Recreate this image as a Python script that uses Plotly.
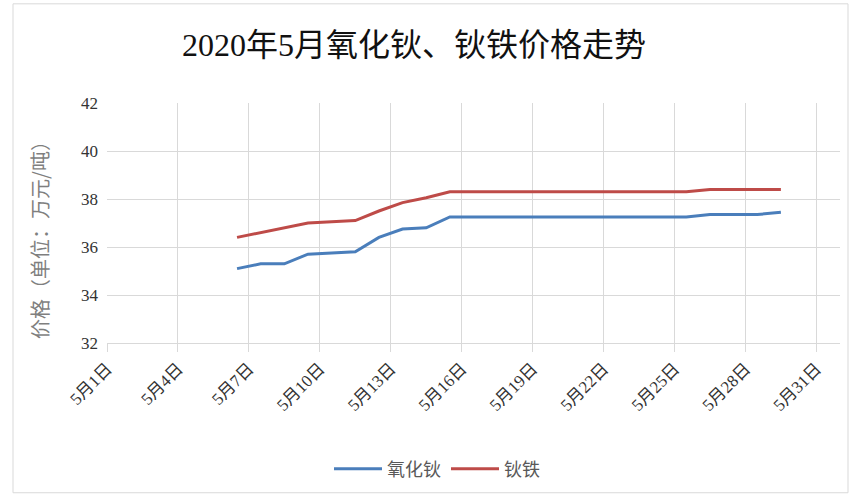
import plotly.graph_objects as go

# Daily prices, 万元/吨
dates = [f"2020-05-{d:02d} 12:00" for d in range(6, 30)]
holmium_oxide = [35.1, 35.3, 35.3, 35.7, 35.75, 35.8, 36.4, 36.75, 36.8,
                 37.25, 37.25, 37.25, 37.25, 37.25, 37.25, 37.25, 37.25, 37.25, 37.25, 37.25,
                 37.35, 37.35, 37.35, 37.45]
holmium_iron = [36.4, 36.6, 36.8, 37.0, 37.05, 37.1, 37.5, 37.85, 38.05,
                38.3, 38.3, 38.3, 38.3, 38.3, 38.3, 38.3, 38.3, 38.3, 38.3, 38.3,
                38.4, 38.4, 38.4, 38.4]

tick_days = list(range(1, 32, 3))
tick_vals = [f"2020-05-{d:02d}" for d in tick_days]
tick_text = [f"5月{d}日" for d in tick_days]
y_ticks = [32, 34, 36, 38, 40, 42]

SERIF = "Times New Roman, Liberation Serif, DejaVu Serif, Noto Sans CJK SC"
CJK = "Noto Sans CJK SC"
GRID = "#d9d9d9"

fig = go.Figure()
fig.add_trace(go.Scatter(x=dates, y=holmium_oxide, mode="lines", name="氧化钬",
                         line=dict(color="#4a7ebb", width=3)))
fig.add_trace(go.Scatter(x=dates, y=holmium_iron, mode="lines", name="钬铁",
                         line=dict(color="#be4b48", width=3)))

W, H = 851, 498
L, R, T, B = 107, 11, 103, 153
pw, ph = W - L - R, H - T - B


def px_x(x):
    return (x - L) / pw


def px_y(y):
    return (H - B - y) / ph


fig.update_layout(
    width=W, height=H,
    margin=dict(l=L, r=R, t=T, b=B),
    paper_bgcolor="white", plot_bgcolor="white",
    title=dict(text="2020年5月氧化钬、钬铁价格走势", x=414 / W, xanchor="center",
               y=1 - 45 / H, yanchor="middle",
               font=dict(family=SERIF, size=32, color="#111111")),
    showlegend=True,
    legend=dict(orientation="h", x=px_x(437), xanchor="center", y=px_y(472), yanchor="middle",
                font=dict(family=CJK, size=18, color="#595959"), itemwidth=48,
                bgcolor="rgba(0,0,0,0)"),
    xaxis=dict(type="date", range=["2020-05-01", "2020-06-01"],
               tickvals=tick_vals, ticktext=tick_text, tickangle=-45,
               showgrid=True, gridcolor=GRID, gridwidth=1,
               ticks="outside", ticklen=8, tickcolor=GRID,
               showline=True, linecolor=GRID, linewidth=1,
               tickfont=dict(family=SERIF, size=17, color="#333333"),
               zeroline=False, fixedrange=True),
    yaxis=dict(range=[32, 42], tickvals=y_ticks, showgrid=True, gridcolor=GRID, gridwidth=1,
               ticks="", showline=False, zeroline=False,
               tickfont=dict(family=SERIF, size=17, color="#333333"),
               ticklabelstandoff=8, fixedrange=True),
    annotations=[dict(text="价格（单位：万元/吨）", xref="paper", yref="paper",
                      x=px_x(40), y=px_y(236), textangle=-90, showarrow=False,
                      xanchor="center", yanchor="middle",
                      font=dict(family=CJK, size=20, color="#7f7f7f"))],
    shapes=[dict(type="rect", xref="paper", yref="paper",
                 x0=px_x(13), x1=px_x(848), y0=px_y(3), y1=px_y(496),
                 line=dict(color=GRID, width=1), fillcolor="rgba(0,0,0,0)", layer="below")],
)

fig.write_html("out.html")
